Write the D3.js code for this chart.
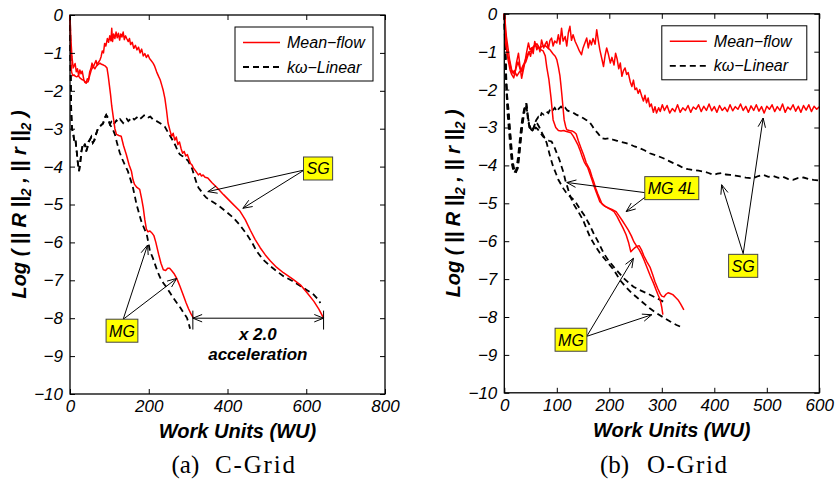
<!DOCTYPE html>
<html>
<head>
<meta charset="utf-8">
<script src="https://cdn.jsdelivr.net/npm/d3@7"></script>
<style>
  body { margin: 0; background: #fff; }
  svg { display: block; }
  text { font-family: "Liberation Sans", Arial, sans-serif; }
</style>
</head>
<body>
<div id="chart"></div>
<script>
// residual histories, [work units, log10 residual]
// (a) C-Grid
const cSgMean = [[0,0],[2,-0.6],[5,-1.1],[8,-1.4],[10,-1.35],[13,-1.28],[16,-1.5],[19,-1.42],[22,-1.6],[25,-1.45],[28,-1.55],[31,-1.48],[35,-1.7],[38,-1.78],[41,-1.8],[44,-1.68],[47,-1.72],[50,-1.5],[53,-1.42],[56,-1.27],[59,-1.38],[62,-1.3],[66,-1.2],[69,-1.32],[72,-1.25],[76,-1.19],[79,-1.1],[82,-0.95],[85,-1.0],[88,-0.75],[91,-0.82],[95,-0.62],[98,-0.72],[101,-0.55],[104,-0.68],[106,-0.35],[108,-0.7],[111,-0.5],[114,-0.62],[117,-0.45],[120,-0.6],[123,-0.48],[126,-0.66],[129,-0.5],[132,-0.58],[135,-0.45],[138,-0.65],[141,-0.55],[144,-0.62],[148,-0.7],[151,-0.62],[154,-0.78],[158,-0.72],[162,-0.88],[166,-0.8],[170,-0.92],[174,-0.85],[178,-1.0],[182,-0.9],[186,-1.08],[190,-1.02],[194,-1.12],[198,-1.05],[202,-1.15],[206,-1.2],[211,-1.27],[215,-1.35],[220,-1.5],[225,-1.62],[229,-1.71],[233,-1.85],[237,-2.0],[241,-2.2],[245,-2.5],[249,-2.85],[254,-3.05],[258,-3.2],[262,-3.12],[266,-3.3],[270,-3.22],[274,-3.42],[278,-3.35],[282,-3.52],[286,-3.65],[290,-3.6],[294,-3.72],[298,-3.68],[302,-3.8],[306,-3.92],[310,-3.96],[314,-4.05],[318,-4.1],[322,-4.16],[326,-4.22],[330,-4.18],[334,-4.25],[338,-4.22],[343,-4.28],[350,-4.3],[360,-4.42],[373,-4.55],[390,-4.74],[410,-4.95],[432,-5.18],[445,-5.4],[458,-5.68],[470,-5.92],[483,-6.14],[496,-6.33],[509,-6.49],[525,-6.66],[542,-6.8],[565,-6.96],[585,-7.12],[600,-7.3],[619,-7.55],[632,-7.76],[644,-8.0]];
const cSgKw = [[0,0],[1,-0.9],[2,-1.8],[3,-2.5],[5,-3.0],[8,-3.1],[11,-3.35],[14,-3.3],[17,-3.6],[20,-3.9],[23,-4.12],[26,-3.9],[29,-3.6],[32,-3.45],[35,-3.5],[38,-3.4],[41,-3.6],[44,-3.5],[47,-3.35],[50,-3.3],[54,-3.22],[58,-3.37],[62,-3.3],[66,-3.15],[71,-3.0],[75,-2.95],[80,-2.9],[84,-2.86],[88,-2.72],[92,-2.64],[97,-2.75],[101,-2.88],[105,-2.82],[110,-2.9],[114,-2.84],[118,-2.78],[122,-2.82],[127,-2.75],[131,-2.8],[135,-2.85],[140,-2.78],[144,-2.74],[148,-2.8],[153,-2.75],[158,-2.7],[163,-2.76],[168,-2.72],[173,-2.68],[178,-2.74],[183,-2.7],[188,-2.65],[194,-2.64],[199,-2.7],[204,-2.68],[210,-2.75],[215,-2.77],[220,-2.8],[228,-2.85],[235,-2.9],[241,-2.95],[249,-3.1],[257,-3.24],[263,-3.35],[268,-3.45],[274,-3.6],[279,-3.68],[285,-3.72],[290,-3.75],[295,-3.8],[300,-3.85],[305,-3.95],[310,-4.05],[317,-4.29],[322,-4.45],[326,-4.55],[334,-4.66],[340,-4.75],[346,-4.82],[358,-4.9],[370,-4.98],[381,-5.06],[398,-5.2],[415,-5.35],[432,-5.55],[449,-5.79],[462,-6.0],[474,-6.23],[490,-6.45],[508,-6.62],[525,-6.76],[542,-6.89],[565,-7.02],[585,-7.15],[602,-7.26],[619,-7.38],[628,-7.48],[636,-7.6]];
const cMgMean = [[0,0],[1,-0.6],[2,-1.2],[4,-1.5],[7,-1.6],[10,-1.58],[14,-1.62],[17,-1.63],[21,-1.6],[25,-1.66],[30,-1.7],[35,-1.72],[40,-1.78],[46,-1.76],[50,-1.6],[54,-1.45],[59,-1.36],[63,-1.42],[67,-1.35],[72,-1.3],[76,-1.27],[80,-1.3],[85,-1.32],[90,-1.35],[94,-1.4],[97,-1.6],[100,-1.85],[103,-2.1],[106,-2.4],[110,-2.7],[114,-3.0],[118,-3.15],[124,-3.18],[130,-3.2],[136,-3.45],[143,-3.68],[150,-3.95],[156,-4.12],[160,-4.35],[164,-4.47],[170,-4.55],[177,-4.6],[182,-4.85],[186,-5.08],[190,-5.4],[194,-5.65],[198,-5.72],[203,-5.7],[208,-5.75],[213,-5.82],[218,-6.0],[225,-6.31],[231,-6.55],[237,-6.72],[243,-6.74],[248,-6.68],[253,-6.68],[258,-6.74],[264,-6.82],[271,-6.95],[279,-7.15],[288,-7.4],[295,-7.6],[301,-7.75],[307,-7.88],[313,-7.99]];
const cMgKw = [[0,0],[1,-0.9],[2,-1.8],[3,-2.5],[5,-3.0],[8,-3.1],[11,-3.35],[14,-3.3],[17,-3.6],[20,-3.9],[23,-4.12],[26,-3.9],[29,-3.6],[32,-3.45],[35,-3.5],[38,-3.4],[41,-3.6],[44,-3.5],[47,-3.35],[50,-3.3],[54,-3.22],[58,-3.37],[62,-3.3],[66,-3.15],[71,-3.0],[75,-2.95],[80,-2.9],[84,-2.86],[88,-2.72],[92,-2.64],[97,-2.72],[102,-2.9],[108,-3.0],[114,-3.15],[120,-3.4],[126,-3.62],[131,-3.76],[139,-3.95],[147,-4.12],[154,-4.35],[160,-4.56],[165,-4.8],[169,-5.0],[175,-5.22],[181,-5.44],[188,-5.62],[195,-5.79],[199,-6.0],[203,-6.23],[210,-6.4],[216,-6.58],[222,-6.76],[229,-6.93],[237,-7.07],[246,-7.2],[254,-7.33],[262,-7.46],[271,-7.59],[280,-7.72],[288,-7.85],[297,-7.99],[301,-8.12],[305,-8.28]];

// (b) O-Grid
const oSgMean = [[0,0],[1,-0.11],[4,-0.6],[7,-0.9],[10,-1.2],[14,-1.48],[17,-1.55],[20,-1.61],[23,-1.3],[27,-1.04],[30,-1.4],[33,-1.7],[36,-1.5],[39,-1.3],[42,-1.05],[46,-0.77],[49,-0.95],[52,-0.9],[55,-1.05],[58,-0.73],[62,-0.95],[65,-0.86],[68,-1.0],[71,-0.69],[75,-0.9],[78,-0.8],[81,-0.73],[84,-0.92],[87,-0.7],[90,-0.64],[93,-0.85],[96,-0.72],[100,-0.77],[103,-0.55],[106,-0.8],[109,-0.38],[112,-0.72],[116,-0.6],[119,-0.85],[122,-0.5],[125,-0.33],[128,-0.7],[131,-0.55],[135,-0.73],[139,-0.85],[143,-0.98],[147,-1.08],[150,-0.9],[154,-0.75],[157,-0.64],[160,-0.9],[163,-0.7],[166,-0.82],[169,-0.65],[173,-0.8],[176,-0.42],[179,-0.7],[182,-0.95],[186,-1.2],[189,-1.39],[192,-1.1],[195,-0.9],[198,-1.05],[202,-1.3],[205,-1.15],[209,-1.35],[212,-1.04],[215,-1.2],[218,-1.45],[221,-1.3],[224,-1.65],[227,-1.5],[230,-1.43],[233,-1.6],[236,-1.55],[240,-1.8],[243,-1.92],[246,-1.75],[249,-2.0],[252,-1.96],[255,-2.1],[258,-2.0],[262,-2.18],[265,-2.3],[268,-2.15],[271,-2.35],[274,-2.22],[277,-2.45],[280,-2.38],[284,-2.6],[287,-2.45],[290,-2.62],[294,-2.48],[297,-2.58],[301,-2.4],[305,-2.55],[310,-2.42],[315,-2.62],[320,-2.5],[325,-2.58],[330,-2.4],[335,-2.6],[340,-2.48],[345,-2.55],[350,-2.42],[355,-2.6],[360,-2.46],[365,-2.52],[370,-2.4],[375,-2.58],[380,-2.44],[385,-2.55],[390,-2.38],[395,-2.56],[400,-2.45],[405,-2.6],[410,-2.42],[415,-2.55],[420,-2.47],[425,-2.58],[430,-2.4],[435,-2.56],[440,-2.45],[445,-2.52],[450,-2.38],[455,-2.55],[460,-2.44],[465,-2.6],[470,-2.43],[475,-2.55],[480,-2.4],[485,-2.57],[490,-2.45],[495,-2.62],[500,-2.44],[505,-2.52],[510,-2.4],[515,-2.58],[520,-2.45],[525,-2.55],[530,-2.38],[535,-2.6],[540,-2.46],[545,-2.53],[550,-2.4],[555,-2.57],[560,-2.44],[565,-2.6],[570,-2.42],[575,-2.54],[580,-2.4],[585,-2.58],[590,-2.44],[595,-2.52],[600,-2.45]];
const oSgKw = [[0,0],[2,-0.9],[4,-1.8],[6,-2.3],[8,-2.5],[10,-2.9],[12,-3.3],[14,-3.7],[16,-4.0],[19,-4.2],[23,-4.1],[26,-3.8],[29,-3.4],[32,-3.0],[35,-2.7],[38,-2.5],[42,-2.36],[45,-2.7],[48,-3.0],[52,-3.1],[55,-3.06],[58,-2.9],[61,-2.8],[65,-2.72],[68,-2.75],[71,-2.62],[75,-2.66],[80,-2.58],[84,-2.62],[88,-2.5],[92,-2.55],[96,-2.48],[100,-2.58],[104,-2.5],[108,-2.45],[112,-2.52],[116,-2.48],[120,-2.55],[125,-2.58],[130,-2.6],[137,-2.66],[143,-2.7],[150,-2.75],[156,-2.8],[162,-2.85],[167,-2.95],[172,-3.06],[178,-3.15],[185,-3.28],[192,-3.3],[200,-3.28],[207,-3.32],[215,-3.35],[223,-3.38],[232,-3.41],[240,-3.45],[248,-3.5],[257,-3.54],[267,-3.6],[277,-3.68],[290,-3.74],[303,-3.81],[313,-3.88],[322,-3.94],[332,-4.0],[341,-4.07],[350,-4.1],[360,-4.12],[370,-4.14],[379,-4.16],[389,-4.2],[398,-4.25],[406,-4.22],[414,-4.2],[422,-4.24],[430,-4.25],[440,-4.27],[449,-4.29],[460,-4.32],[474,-4.34],[484,-4.28],[493,-4.25],[503,-4.3],[512,-4.28],[522,-4.33],[531,-4.3],[541,-4.36],[550,-4.38],[560,-4.33],[570,-4.32],[580,-4.36],[589,-4.38],[600,-4.4]];
const oMgMeanA = [[0,0],[3,-0.7],[7,-1.2],[11,-1.48],[14,-1.6],[18,-1.69],[22,-1.45],[26,-1.27],[30,-1.45],[34,-1.53],[38,-1.3],[43,-1.11],[47,-1.0],[50,-1.12],[53,-0.9],[57,-0.85],[62,-0.79],[66,-0.88],[70,-0.95],[74,-0.98],[78,-1.11],[81,-1.42],[85,-1.74],[89,-2.22],[93,-2.8],[98,-3.0],[103,-3.08],[108,-3.09],[113,-3.08],[117,-3.1],[122,-3.12],[127,-3.14],[131,-3.22],[135,-3.32],[140,-3.45],[144,-3.59],[148,-3.75],[152,-3.9],[156,-4.0],[159,-4.06],[163,-4.22],[167,-4.38],[171,-4.55],[175,-4.7],[179,-4.85],[182,-4.96],[188,-5.04],[193,-5.09],[201,-5.15],[209,-5.22],[215,-5.35],[220,-5.49],[226,-5.65],[232,-5.83],[237,-6.05],[241,-6.28],[245,-6.22],[249,-6.17],[253,-6.13],[257,-6.12],[262,-6.25],[266,-6.39],[272,-6.55],[278,-6.7],[283,-6.9],[287,-7.07],[292,-7.24],[297,-7.39],[300,-7.45],[304,-7.47],[308,-7.4],[312,-7.36],[316,-7.38],[321,-7.41],[326,-7.48],[331,-7.55],[336,-7.66],[342,-7.81]];
const oMgMeanB = [[0,0],[3,-0.82],[6,-1.1],[9,-1.21],[12,-1.4],[15,-1.56],[19,-1.5],[24,-1.64],[28,-1.55],[32,-1.48],[36,-1.35],[41,-1.27],[45,-1.1],[49,-1.0],[53,-0.95],[58,-0.82],[63,-0.88],[68,-0.9],[73,-0.85],[78,-0.84],[83,-0.9],[87,-0.95],[93,-1.06],[97,-1.12],[100,-1.21],[103,-1.4],[106,-1.64],[108,-1.9],[110,-2.19],[112,-2.5],[114,-2.8],[117,-2.98],[119,-3.06],[124,-3.08],[129,-3.09],[133,-3.12],[137,-3.17],[141,-3.35],[146,-3.54],[151,-3.72],[156,-3.93],[160,-4.04],[163,-4.12],[167,-4.3],[171,-4.46],[174,-4.6],[178,-4.75],[182,-4.88],[186,-5.01],[192,-5.08],[198,-5.12],[205,-5.16],[213,-5.22],[218,-5.32],[224,-5.44],[230,-5.57],[236,-5.7],[242,-5.86],[247,-6.02],[252,-6.13],[257,-6.23],[262,-6.36],[266,-6.49],[272,-6.7],[278,-6.91],[284,-7.1],[289,-7.28],[293,-7.42],[297,-7.55],[300,-7.75],[302,-7.94]];
const oMgKwA = [[0,0],[2,-1.2],[4,-2.0],[6,-2.6],[9,-3.1],[12,-3.6],[15,-4.0],[18,-4.18],[21,-4.16],[25,-4.1],[28,-3.8],[31,-3.4],[34,-3.0],[37,-2.7],[40,-2.45],[42,-2.36],[45,-2.8],[48,-3.0],[52,-3.08],[56,-3.0],[60,-2.85],[63,-2.9],[67,-3.0],[70,-3.1],[74,-3.2],[78,-3.3],[81,-3.42],[84,-3.59],[88,-3.8],[93,-4.03],[98,-4.2],[103,-4.38],[108,-4.5],[112,-4.6],[118,-4.72],[125,-4.82],[130,-4.88],[135,-4.95],[144,-5.15],[154,-5.35],[162,-5.56],[170,-5.79],[180,-6.05],[189,-6.31],[198,-6.5],[208,-6.67],[218,-6.83],[227,-6.97],[237,-7.1],[246,-7.2],[258,-7.29],[271,-7.37],[284,-7.46],[297,-7.55],[307,-7.63]];
const oMgKwB = [[0,0],[2,-1.0],[4,-1.9],[7,-2.5],[10,-3.0],[13,-3.4],[16,-3.9],[19,-4.1],[22,-4.2],[26,-4.05],[29,-3.6],[32,-3.15],[35,-2.8],[38,-2.55],[41,-2.4],[44,-2.6],[47,-2.9],[51,-3.05],[55,-3.1],[60,-3.0],[64,-3.05],[69,-3.15],[74,-3.24],[79,-3.3],[85,-3.35],[90,-3.37],[95,-3.5],[100,-3.68],[105,-3.85],[109,-4.03],[113,-4.2],[116,-4.38],[120,-4.56],[124,-4.75],[131,-5.0],[140,-5.2],[150,-5.44],[156,-5.65],[163,-5.88],[172,-6.1],[182,-6.31],[195,-6.53],[208,-6.75],[214,-6.88],[220,-7.02],[231,-7.2],[243,-7.37],[254,-7.5],[265,-7.63],[277,-7.77],[290,-7.9],[303,-8.01],[316,-8.12],[328,-8.21],[341,-8.29]];

const xTicksA = [0, 200, 400, 600, 800];
const xTicksB = [0, 100, 200, 300, 400, 500, 600];
const yTicks = [0, -1, -2, -3, -4, -5, -6, -7, -8, -9, -10];
const legendLabels = ["Mean\u2212flow", "k\u03c9\u2212Linear"];

// callouts: box label + centre, and arrows [from, to] in data units
const calloutsA = [
  { label: "SG", at: [630, -4.05], arrows: [[[595, -4.09], [350, -4.66]], [[595, -4.09], [439, -5.1]]] },
  { label: "MG", at: [132, -8.33], arrows: [[[135, -8.03], [197, -6.07]], [[135, -8.03], [271, -6.95]]] }
];
const calloutsB = [
  { label: "MG 4L", at: [319, -4.6], arrows: [[[269, -4.72], [119, -4.45]], [[269, -4.83], [232, -5.22]]] },
  { label: "SG", at: [455, -6.65], arrows: [[[455, -6.33], [414, -4.51]], [[455, -6.33], [493, -2.75]]] },
  { label: "MG", at: [127, -8.6], arrows: [[[157, -8.51], [246, -6.45]], [[157, -8.51], [281, -7.94]]] }
];

const W = 839, H = 482;
const svg = d3.select("#chart").append("svg")
    .attr("width", W).attr("height", H)
    .style("background", "#fff");

function arrowPath(x1, y1, x2, y2, both) {
    const head = (xa, ya, xb, yb) => {
        const a = Math.atan2(yb - ya, xb - xa), L = 10, s = 0.38;
        return `M${xb - L * Math.cos(a - s)},${yb - L * Math.sin(a - s)}L${xb},${yb}L${xb - L * Math.cos(a + s)},${yb - L * Math.sin(a + s)}`;
    };
    let d = `M${x1},${y1}L${x2},${y2}` + head(x1, y1, x2, y2);
    if (both) d += head(x2, y2, x1, y1);
    return d;
}

function drawPanel(cfg) {
    const g = svg.append("g").attr("transform", `translate(${cfg.left},${cfg.top})`);
    const x = d3.scaleLinear().domain(cfg.xDomain).range([0, cfg.width]);
    const y = d3.scaleLinear().domain([-10, 0]).range([cfg.height, 0]);
    const line = d3.line().x(d => x(d[0])).y(d => y(d[1]));

    // curves
    cfg.dashed.forEach(s => {
        g.append("path").datum(s)
            .attr("fill", "none").attr("stroke", "#000")
            .attr("stroke-width", 1.8).attr("stroke-dasharray", "6,4")
            .attr("d", line);
    });
    cfg.solid.forEach(s => {
        g.append("path").datum(s)
            .attr("fill", "none").attr("stroke", "#ff0000")
            .attr("stroke-width", 1.5).attr("stroke-linejoin", "round")
            .attr("d", line);
    });

    // axes, ticks pointing inward on all four sides
    const fmt = d3.format("d");
    const styleAxis = sel => {
        sel.select(".domain").remove();
        sel.selectAll("line").attr("stroke", "#000").attr("stroke-width", 1);
        sel.selectAll("text")
            .attr("fill", "#000")
            .style("font-size", "17px").style("font-style", "italic");
    };
    g.append("g").attr("transform", `translate(0,${cfg.height})`)
        .call(d3.axisBottom(x).tickValues(cfg.xTicks).tickFormat(fmt).tickSize(-5).tickPadding(6))
        .call(styleAxis);
    g.append("g")
        .call(d3.axisTop(x).tickValues(cfg.xTicks).tickFormat("").tickSize(-5))
        .call(styleAxis);
    g.append("g")
        .call(d3.axisLeft(y).tickValues(yTicks).tickFormat(fmt).tickSize(-5).tickPadding(7))
        .call(styleAxis);
    g.append("g").attr("transform", `translate(${cfg.width},0)`)
        .call(d3.axisRight(y).tickValues(yTicks).tickFormat("").tickSize(-5))
        .call(styleAxis);

    g.append("rect")
        .attr("width", cfg.width).attr("height", cfg.height)
        .attr("fill", "none").attr("stroke", "#000").attr("stroke-width", 1.3);

    // axis titles
    g.append("text")
        .attr("x", cfg.width / 2 + 10).attr("y", cfg.height + 44)
        .attr("text-anchor", "middle")
        .style("font-size", "20px").style("font-weight", "bold").style("font-style", "italic")
        .text("Work Units (WU)");

    const yl = g.append("text")
        .attr("transform", `translate(-44,${cfg.height / 2}) rotate(-90)`)
        .attr("text-anchor", "middle")
        .style("font-size", "20px").style("font-weight", "bold").style("font-style", "italic");
    yl.append("tspan").text("Log ( || R ||");
    yl.append("tspan").attr("dy", 5).style("font-size", "14px").text("2");
    yl.append("tspan").attr("dy", -5).text(" , || r ||");
    yl.append("tspan").attr("dy", 5).style("font-size", "14px").text("2");
    yl.append("tspan").attr("dy", -5).text(" )");

    // legend
    const lg = g.append("g").attr("transform", `translate(${cfg.legend[0]},${cfg.legend[1]})`);
    lg.append("rect").attr("width", cfg.legend[2]).attr("height", 54)
        .attr("fill", "#fff").attr("stroke", "#000").attr("stroke-width", 1);
    legendLabels.forEach((lab, i) => {
        const ly = 15.5 + i * 24.5;
        lg.append("line").attr("x1", 8).attr("x2", 45).attr("y1", ly).attr("y2", ly)
            .attr("stroke", i === 0 ? "#ff0000" : "#000")
            .attr("stroke-width", i === 0 ? 1.5 : 1.8)
            .attr("stroke-dasharray", i === 0 ? null : "6,4");
        lg.append("text").attr("x", 52).attr("y", ly + 5.5)
            .style("font-size", "16px").style("font-style", "italic")
            .text(lab);
    });

    // callouts
    cfg.callouts.forEach(c => {
        c.arrows.forEach(a => {
            g.append("path")
                .attr("d", arrowPath(x(a[0][0]), y(a[0][1]), x(a[1][0]), y(a[1][1]), false))
                .attr("fill", "none").attr("stroke", "#000").attr("stroke-width", 1);
        });
    });
    cfg.callouts.forEach(c => {
        const cx = x(c.at[0]), cy = y(c.at[1]);
        const box = g.append("rect").attr("fill", "#ffff00").attr("stroke", "#444").attr("stroke-width", 1);
        const t = g.append("text").attr("x", cx).attr("y", cy + 6)
            .attr("text-anchor", "middle")
            .style("font-size", "16px").style("font-style", "italic")
            .text(c.label);
        const bb = t.node().getBBox();
        box.attr("x", bb.x - 3).attr("y", cy - 11.5).attr("width", bb.width + 6).attr("height", 23);
    });

    return { g, x, y };
}

const pa = drawPanel({
    left: 70, top: 15, width: 315, height: 379,
    xDomain: [0, 800], xTicks: xTicksA,
    solid: [cSgMean, cMgMean], dashed: [cSgKw, cMgKw],
    legend: [165, 12, 138], callouts: calloutsA
});
const pb = drawPanel({
    left: 504.3, top: 13.8, width: 315, height: 379,
    xDomain: [0, 600], xTicks: xTicksB,
    solid: [oSgMean, oMgMeanA, oMgMeanB], dashed: [oSgKw, oMgKwA, oMgKwB],
    legend: [157.5, 12, 145], callouts: calloutsB
});

// acceleration marker on panel (a)
const accFrom = 312, accTo = 644, accLevel = -8;
pa.g.append("path")
    .attr("d", arrowPath(pa.x(accFrom), pa.y(accLevel), pa.x(accTo), pa.y(accLevel), true))
    .attr("fill", "none").attr("stroke", "#000").attr("stroke-width", 1);
[accFrom, accTo].forEach(v => {
    pa.g.append("line")
        .attr("x1", pa.x(v)).attr("x2", pa.x(v))
        .attr("y1", pa.y(-7.8)).attr("y2", pa.y(-8.3))
        .attr("stroke", "#000").attr("stroke-width", 1);
});
[["x 2.0", -8.58], ["acceleration", -9.1]].forEach(([s, v]) => {
    pa.g.append("text")
        .attr("x", pa.x(477)).attr("y", pa.y(v))
        .attr("text-anchor", "middle")
        .style("font-size", "17px").style("font-weight", "bold").style("font-style", "italic")
        .text(s);
});

// sub-captions
[["(a)", 171.5, "C-Grid", 215], ["(b)", 600, "O-Grid", 647]].forEach(([a, ax, b, bx]) => {
    const t = svg.append("text").attr("y", 473)
        .style("font-family", "'Liberation Serif', 'Times New Roman', serif")
        .style("font-size", "25px");
    t.append("tspan").attr("x", ax).text(a);
    t.append("tspan").attr("x", bx).attr("textLength", 80).attr("lengthAdjust", "spacing").text(b);
});
</script>
</body>
</html>
